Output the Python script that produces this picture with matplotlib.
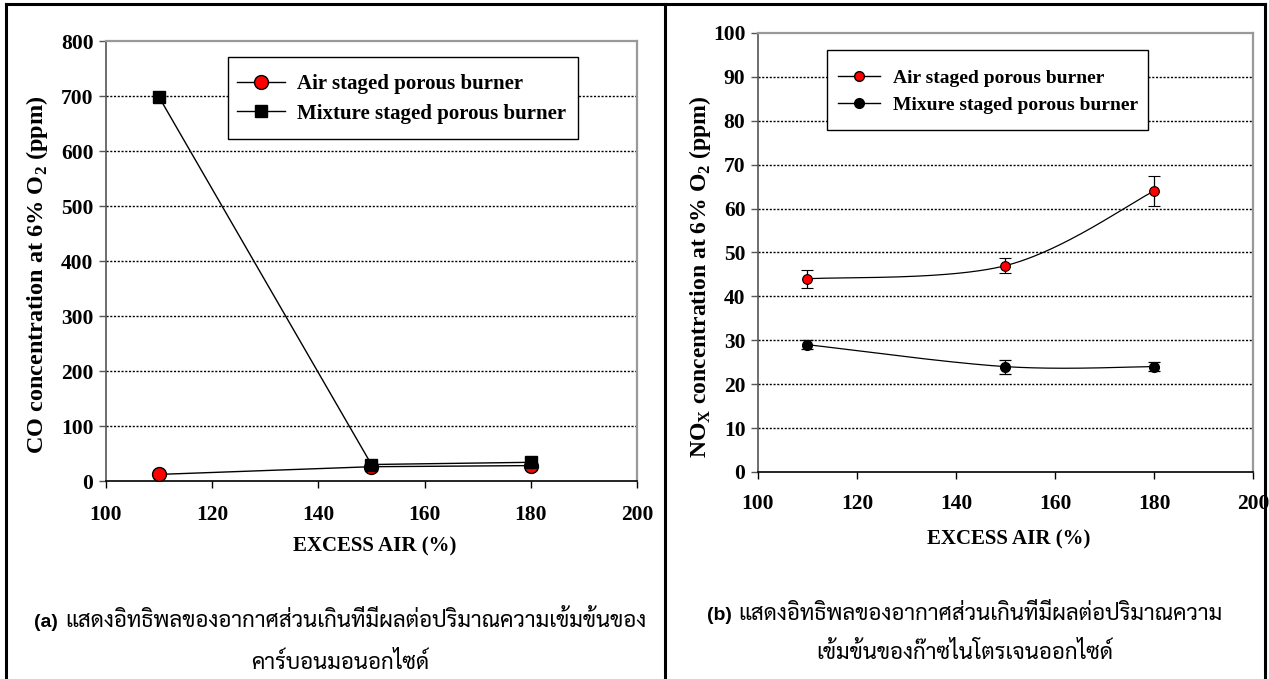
import numpy as np
import matplotlib
matplotlib.use("Agg")
import matplotlib.pyplot as plt
from matplotlib import font_manager
from matplotlib.lines import Line2D
from matplotlib.patches import Rectangle
from matplotlib.offsetbox import TextArea, HPacker, AnchoredOffsetbox

# Excess air levels (%)
excess_air = [110, 150, 180]

# CO at 6% O2 (ppm)
co_air_staged = [12, 26, 28]
co_mixture_staged = [698, 30, 34]

# NOx at 6% O2 (ppm) with error bar half-widths
nox_air_staged = [44, 47, 64]
nox_air_err = [2.0, 1.7, 3.5]
nox_mixture_staged = [29, 24, 24]
nox_mixture_err = [1.0, 1.6, 1.0]

x_ticks = [100, 120, 140, 160, 180, 200]
co_ticks = list(range(0, 801, 100))
nox_ticks = list(range(0, 101, 10))

caption_a = ["(a)", "แสดงอิทธิพลของอากาศส่วนเกินที่มีผลต่อปริมาณความเข้มข้นของ", "คาร์บอนมอนอกไซด์"]
caption_b = ["(b)", "แสดงอิทธิพลของอากาศส่วนเกินที่มีผลต่อปริมาณความ", "เข้มข้นของก๊าซไนโตรเจนออกไซด์"]

installed = {f.name for f in font_manager.fontManager.ttflist}
thai_font = next(n for n in ["Sarabun", "Noto Sans Thai Looped", "Noto Sans Thai", "Athiti"]
                 if n in installed)

plt.rcParams["font.family"] = "Liberation Serif"
plt.rcParams["font.weight"] = "bold"
plt.rcParams["mathtext.fontset"] = "custom"
plt.rcParams["mathtext.rm"] = "Liberation Serif:bold"
plt.rcParams["mathtext.bf"] = "Liberation Serif:bold"

TICK_FS = 15.5
LABEL_FS = 15


def excel_smooth(x, y, n=80):
    # cubic Bezier through the points, the way spreadsheet "smoothed lines" do it
    pts = np.column_stack([x, y]).astype(float)
    padded = np.vstack([pts[0], pts, pts[-1]])
    t = np.linspace(0, 1, n)[:, None]
    segs = []
    for i in range(len(pts) - 1):
        p0, p1 = pts[i], pts[i + 1]
        c1 = p0 + (padded[i + 2] - padded[i]) / 6
        c2 = p1 - (padded[i + 3] - padded[i + 1]) / 6
        segs.append((1 - t) ** 3 * p0 + 3 * (1 - t) ** 2 * t * c1
                    + 3 * (1 - t) * t ** 2 * c2 + t ** 3 * p1)
    curve = np.vstack(segs)
    return curve[:, 0], curve[:, 1]


def style_axes(ax, yticks, xpad, ypad):
    ax.set_xlim(100, 200)
    ax.set_ylim(yticks[0], yticks[-1])
    ax.set_xticks(x_ticks)
    ax.set_yticks(yticks)
    ax.tick_params(axis="x", direction="out", length=5, width=1, pad=xpad, labelsize=TICK_FS)
    ax.tick_params(axis="y", direction="out", length=5, width=1, pad=ypad, labelsize=TICK_FS,
                   color="#555555")
    for lab in ax.get_xticklabels() + ax.get_yticklabels():
        lab.set_fontweight("bold")
    for y in yticks[1:-1]:
        ax.axhline(y, color="black", lw=1.0, ls=(0, (1.5, 1.2)), zorder=1)
    ax.spines["bottom"].set_color("black")
    ax.spines["bottom"].set_linewidth(1.2)
    ax.spines["left"].set_color("#555555")
    ax.spines["left"].set_linewidth(1.2)
    for side in ("top", "right"):
        ax.spines[side].set_color("#999999")
        ax.spines[side].set_linewidth(1.6)


def boxed_legend(ax, handles, labels, anchor, box, size, hlen, hpad):
    # legend without its own frame, boxed by a plain rectangle
    ax.add_patch(Rectangle(box[:2], box[2], box[3], transform=ax.transAxes,
                           facecolor="white", edgecolor="black", lw=1.0, zorder=5))
    leg = ax.legend(handles, labels, loc="center left", bbox_to_anchor=anchor,
                    borderaxespad=0, borderpad=0, frameon=False, handlelength=hlen,
                    handletextpad=hpad, labelspacing=0.45,
                    prop={"weight": "bold", "size": size})
    leg.set_zorder(6)
    return leg


fig = plt.figure(figsize=(12.69, 6.79), dpi=100)

# ---- (a) CO ----
ax1 = fig.add_axes([0.0835, 0.2916, 0.4184, 0.648])
style_axes(ax1, co_ticks, xpad=12, ypad=4)
ax1.plot(excess_air, co_air_staged, color="black", lw=1.0, marker="o", ms=10,
         mfc="red", mec="black", mew=1.0, zorder=3)
ax1.plot(excess_air, co_mixture_staged, color="black", lw=1.0, marker="s", ms=9,
         mfc="black", mec="black", zorder=4)
ax1.set_xlabel("EXCESS AIR (%)", fontsize=LABEL_FS, fontweight="bold")
ax1.xaxis.set_label_coords(0.5066, -0.127)
ax1.set_ylabel(r"CO concentration at 6% O$_\mathbf{2}$ (ppm)", fontsize=17.5,
               fontweight="bold")
ax1.yaxis.set_label_coords(-0.105, 0.468)
leg_handles_a = [
    Line2D([], [], color="black", lw=1.0, marker="o", ms=10, mfc="red", mec="black"),
    Line2D([], [], color="black", lw=1.0, marker="s", ms=9, mfc="black", mec="black"),
]
boxed_legend(ax1, leg_handles_a, ["Air staged porous burner", "Mixture staged porous burner"],
             anchor=(0.2467, 0.868), box=(0.2298, 0.777, 0.659, 0.187),
             size=LABEL_FS, hlen=2.3, hpad=0.58)

# ---- (b) NOx ----
ax2 = fig.add_axes([0.5973, 0.3049, 0.3901, 0.6465])
style_axes(ax2, nox_ticks, xpad=11, ypad=4)
for vals in (nox_air_staged, nox_mixture_staged):
    cx, cy = excel_smooth(excess_air, vals)
    ax2.plot(cx, cy, color="black", lw=0.9, zorder=3)
ax2.errorbar(excess_air, nox_air_staged, yerr=nox_air_err, fmt="o", ms=7, mfc="red",
             mec="black", mew=0.8, ecolor="black", elinewidth=0.9, capsize=4, capthick=0.9,
             zorder=4)
ax2.errorbar(excess_air, nox_mixture_staged, yerr=nox_mixture_err, fmt="o", ms=7,
             mfc="black", mec="black", ecolor="black", elinewidth=0.9, capsize=4,
             capthick=0.9, zorder=4)
ax2.set_xlabel("EXCESS AIR (%)", fontsize=LABEL_FS, fontweight="bold")
ax2.xaxis.set_label_coords(0.507, -0.13)
ax2.set_ylabel(r"NO$_\mathbf{X}$ concentration at 6% O$_\mathbf{2}$ (ppm)",
               fontsize=17, fontweight="bold")
ax2.yaxis.set_label_coords(-0.091, 0.444)
leg_handles_b = [
    Line2D([], [], color="black", lw=1.0, marker="o", ms=7, mfc="red", mec="black"),
    Line2D([], [], color="black", lw=1.0, marker="o", ms=7, mfc="black", mec="black"),
]
boxed_legend(ax2, leg_handles_b, ["Air staged porous burner", "Mixure staged porous burner"],
             anchor=(0.1616, 0.8667), box=(0.139, 0.779, 0.649, 0.182),
             size=14, hlen=2.15, hpad=0.67)


# ---- captions ----
def caption(tag, line1, line2, xc, y1, y2):
    tag_box = TextArea(tag, textprops=dict(family="Liberation Sans", weight="bold", size=14))
    body = TextArea(line1, textprops=dict(family=thai_font, weight="normal", size=16))
    row = HPacker(children=[tag_box, body], align="baseline", pad=0, sep=5)
    box = AnchoredOffsetbox(loc="center", child=row, pad=0, borderpad=0, frameon=False,
                            bbox_to_anchor=(xc, y1), bbox_transform=fig.transFigure)
    fig.add_artist(box)
    fig.text(xc, y2, line2, ha="center", va="center", family=thai_font,
             fontweight="normal", fontsize=16)


caption(caption_a[0], caption_a[1], caption_a[2], 0.268, 0.0854, 0.0236)
caption(caption_b[0], caption_b[1], caption_b[2], 0.7604, 0.0943, 0.0383)

# panel frame
frame = dict(color="black", lw=2.2, transform=fig.transFigure, zorder=10)
fig.add_artist(Line2D([0.0047, 0.9968], [0.9941, 0.9941], **frame))
for xf in (0.0047, 0.524, 0.9968):
    fig.add_artist(Line2D([xf, xf], [0.0, 0.9941], **frame))

fig.savefig("out.png", dpi=100)
